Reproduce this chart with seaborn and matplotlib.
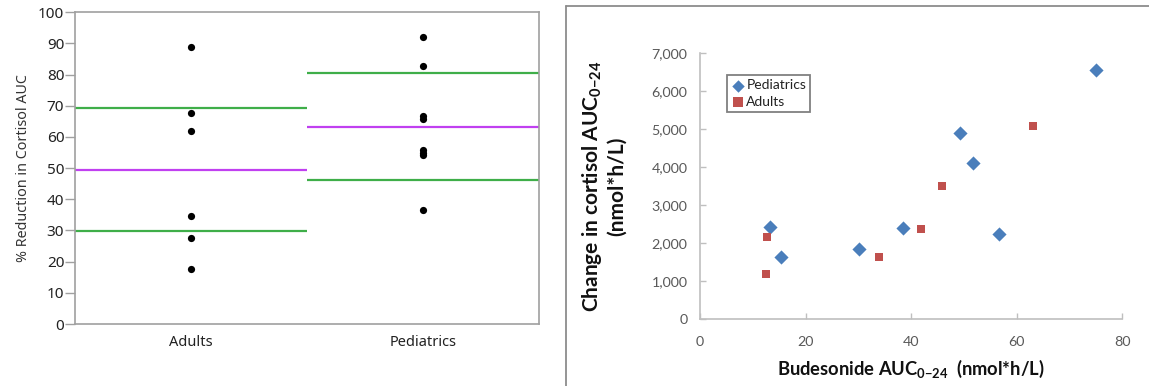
import matplotlib
matplotlib.use("Agg")
import matplotlib.pyplot as plt
import matplotlib.ticker as mticker
from matplotlib.lines import Line2D
import numpy as np
import pandas as pd
import seaborn as sns

# ---------------- data ----------------
groups = ["Adults", "Pediatrics"]
adults_reduction = [89.0, 67.6, 61.8, 34.7, 27.6, 17.5]
peds_reduction = [92.0, 82.8, 66.8, 65.7, 55.9, 55.0, 54.2, 36.7]
mean_line = [49.5, 63.3]
lower_line = [29.9, 46.1]
upper_line = [69.2, 80.5]

peds_budesonide = [13.2, 15.3, 30.2, 38.4, 49.3, 51.7, 56.7, 75.0]
peds_cortisol = [2440, 1630, 1860, 2395, 4910, 4105, 2245, 6555]
adults_budesonide = [12.7, 12.5, 34.0, 41.8, 45.9, 63.1]
adults_cortisol = [2175, 1185, 1640, 2375, 3510, 5095]

y_ticks_left = list(range(0, 101, 10))
x_ticks_right = [0, 20, 40, 60, 80]
y_ticks_right = list(range(0, 7001, 1000))

# ---------------- style ----------------
sns.set_theme(style="white")
plt.rcParams["font.family"] = ["Noto Sans", "DejaVu Sans"]
plt.rcParams["mathtext.fontset"] = "custom"
plt.rcParams["mathtext.rm"] = "Lato"
plt.rcParams["mathtext.bf"] = "Lato:bold"

W, H = 1149, 386
fig = plt.figure(figsize=(W / 100, H / 100), dpi=100)

def fx(px):
    return px / W

def fy(py):
    return 1 - py / H

# ---------------- left panel ----------------
axL = fig.add_axes([fx(75.4), fy(324), fx(538.6) - fx(75.4), fy(12.3) - fy(324)])
df_left = pd.DataFrame({
    "group": ["Adults"] * len(adults_reduction) + ["Pediatrics"] * len(peds_reduction),
    "value": adults_reduction + peds_reduction,
})
sns.stripplot(data=df_left, x="group", y="value", order=groups, jitter=False,
              color="black", size=5.2, linewidth=0, ax=axL, zorder=3)
for i, g in enumerate(groups):
    axL.hlines(upper_line[i], i - 0.5, i + 0.5, color="#3fae49", lw=1.6, zorder=2)
    axL.hlines(lower_line[i], i - 0.5, i + 0.5, color="#3fae49", lw=1.6, zorder=2)
    axL.hlines(mean_line[i], i - 0.5, i + 0.5, color="#c040f0", lw=1.6, zorder=2)
axL.set_xlim(-0.5, 1.5)
axL.set_ylim(0, 100)
axL.set_yticks(y_ticks_left)
axL.set_xticks([0, 1])
axL.set_xticklabels(groups)
axL.set_xticks([0.5], minor=True)
axL.tick_params(axis="x", which="major", length=0, pad=8, labelsize=10.5, labelcolor="#222222")
axL.tick_params(axis="x", which="minor", length=7, width=1, color="#a0a0a0", direction="out")
axL.tick_params(axis="y", length=7, width=1, color="#a0a0a0", direction="out", pad=1,
                labelsize=11, labelcolor="#222222", left=True)
axL.set_xlabel("")
axL.set_ylabel("% Reduction in Cortisol AUC", fontsize=10.3, color="#333333", labelpad=5)
for s in axL.spines.values():
    s.set_color("#a0a0a0")
    s.set_linewidth(1.2)

# ---------------- right panel ----------------
axR = fig.add_axes([fx(700), fy(319.3), fx(1122.1) - fx(700), fy(53.3) - fy(319.3)])
df_p = pd.DataFrame({"x": peds_budesonide, "y": peds_cortisol})
df_a = pd.DataFrame({"x": adults_budesonide, "y": adults_cortisol})
sns.scatterplot(data=df_p, x="x", y="y", marker="D", color="#4a7ebb", s=52,
                linewidth=0, ax=axR, label="Pediatrics", legend=False, zorder=3)
sns.scatterplot(data=df_a, x="x", y="y", marker="s", color="#c0504d", s=36,
                linewidth=0, ax=axR, label="Adults", legend=False, zorder=3)
axR.set_xlim(0, 80)
axR.set_ylim(0, 7000)
axR.set_xticks(x_ticks_right)
axR.set_yticks(y_ticks_right)
axR.yaxis.set_major_formatter(mticker.FuncFormatter(lambda v, p: f"{int(v):,}"))
axR.tick_params(axis="both", direction="in", length=4, width=1, color="#bfbfbf",
                labelsize=10.3, labelcolor="#595959", bottom=True, left=True)
for lab in axR.get_xticklabels() + axR.get_yticklabels():
    lab.set_fontfamily(["Lato", "DejaVu Sans"])
axR.tick_params(axis="x", pad=12)
axR.tick_params(axis="y", pad=9)
for side in ["top", "right"]:
    axR.spines[side].set_visible(False)
for side in ["left", "bottom"]:
    axR.spines[side].set_color("#bfbfbf")
    axR.spines[side].set_linewidth(1.2)

axR.set_xlabel(r"Budesonide AUC$_{\mathbf{0{-}24}}$  (nmol*h/L)", fontsize=13.2,
               fontweight="bold", family=["Lato", "DejaVu Sans"], color="#111111", labelpad=7)
axR.set_ylabel("Change in cortisol AUC$_{\\mathbf{0{-}24}}$\n(nmol*h/L)", fontsize=15,
               fontweight="bold", family=["Lato", "DejaVu Sans"], color="#111111",
               labelpad=18, linespacing=1.15)

leg = axR.legend(loc="upper left", bbox_to_anchor=(fx(727), fy(75)),
                 bbox_transform=fig.transFigure, borderaxespad=0, frameon=True,
                 fancybox=False, framealpha=1, edgecolor="#808080",
                 prop={"family": ["Lato", "DejaVu Sans"], "size": 10},
                 handletextpad=0.1, handlelength=1.0, borderpad=0.3,
                 labelspacing=0.35)
leg.get_frame().set_linewidth(1.3)
for h, sz in zip(leg.legend_handles, [40, 42]):
    h.set_sizes([sz])
for t in leg.get_texts():
    t.set_color("#222222")

# border around right panel
fig.add_artist(Line2D([fx(566), fx(566)], [0, fy(6)], color="#8c8c8c", lw=1.3))
fig.add_artist(Line2D([fx(566), 1], [fy(6), fy(6)], color="#8c8c8c", lw=1.3))

fig.savefig("out.png", dpi=100)
